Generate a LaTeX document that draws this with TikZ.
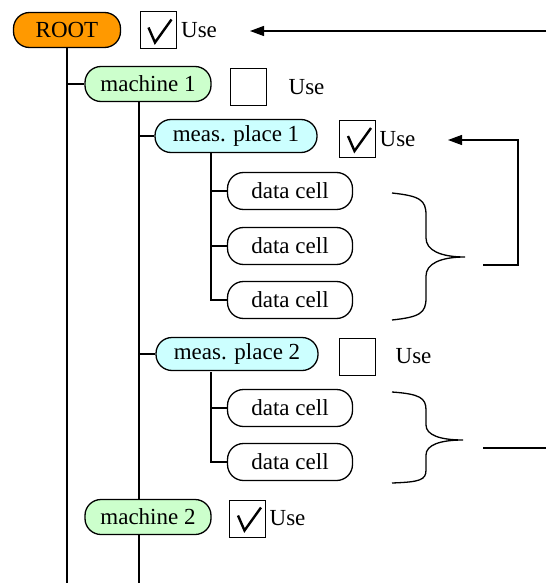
\documentclass[tikz,border=0pt]{standalone}
\usepackage{fontspec}
\setmainfont{LiberationSerif}[Extension=.ttf,UprightFont=*-Regular]
\newfontfamily\diagfont{LiberationSerif}[Extension=.ttf,UprightFont=*-Regular]
\usetikzlibrary{arrows.meta}
\definecolor{rootfill}{HTML}{FF9900}
\definecolor{machfill}{HTML}{CCFFCC}
\definecolor{measfill}{HTML}{CCFFFF}
\newcommand\tickmark[1]{\draw[line width=2.4pt, line join=miter, line cap=butt] ([shift={(9,16)}]#1.north west) -- ([shift={(15.5,31)}]#1.north west) -- ([shift={(32,8)}]#1.north west);}
\begin{document}
\begin{tikzpicture}[x=1pt,y=-1pt,line width=1.3pt,
  every node/.style={font=\diagfont\fontsize{23}{26}\selectfont},
  item/.style={draw, rectangle, rounded corners=16pt, inner sep=0pt, minimum height=35pt},
  rootbox/.style={item, fill=rootfill, minimum width=107pt},
  machbox/.style={item, fill=machfill, minimum width=126pt},
  measbox/.style={item, fill=measfill, minimum width=162pt, minimum height=33pt},
  cellbox/.style={item, fill=white, minimum width=125pt, minimum height=37pt},
  usebox/.style={draw, line width=1pt, inner sep=0pt, minimum width=36pt, minimum height=37pt},
  uselabel/.style={inner sep=0pt, anchor=west},
  conn/.style={line width=1.3pt},
  tip/.style={-{Triangle[length=14pt,width=10pt]}},
  brace/.style={line width=1.3pt}
]
\useasboundingbox (0,0) rectangle (546,583);

% coordinates for tree trunks
\coordinate (bot0) at (67,583);
\coordinate (bot1) at (139,583);

% nodes
\node[rootbox] (root) at (67,30) {ROOT};
\node[machbox] (m1) at (148,84) {machine 1};
\node[measbox] (p1) at (236,136) {meas. place 1};
\node[cellbox] (c11) at (290,191) {data cell};
\node[cellbox] (c12) at (290,246) {data cell};
\node[cellbox] (c13) at (290,300) {data cell};
\node[measbox] (p2) at (237,354) {meas. place 2};
\node[cellbox] (c21) at (290,408) {data cell};
\node[cellbox] (c22) at (290,462) {data cell};

% tree lines
\draw[conn] (root.south) -- (bot0);
\draw[conn] (m1.south -| bot1) -- (bot1);
\draw[conn] (bot0 |- m1) -- (m1.west);
\draw[conn] (bot1 |- p1) -- (p1.west);
\draw[conn] (bot1 |- p2) -- (p2.west);
\coordinate (t1) at (211,152);
\coordinate (t2) at (211,372);
\draw[conn] (t1) -- (t1 |- c13) -- (c13.west);
\draw[conn] (t1 |- c11) -- (c11.west);
\draw[conn] (t1 |- c12) -- (c12.west);
\draw[conn] (t2) -- (t2 |- c22) -- (c22.west);
\draw[conn] (t2 |- c21) -- (c21.west);

\node[machbox] (m2) at (148,517) {machine 2};

% checkboxes
\node[usebox] (u0) at (158,30.5) {};
\node[uselabel] (l0) at ([xshift=4pt]u0.east) {Use};
\tickmark{u0}
\node[usebox] (u1) at (248.5,87) {};
\node[uselabel] (l1) at ([xshift=21pt]u1.east) {Use};
\node[usebox] (u2) at (357.5,139) {};
\node[uselabel] (l2) at ([xshift=3pt]u2.east) {Use};
\tickmark{u2}
\node[usebox] (u3) at (357.5,356.5) {};
\node[uselabel] (l3) at ([xshift=19pt]u3.east) {Use};
\node[usebox] (u4) at (247.5,518.5) {};
\node[uselabel] (l4) at ([xshift=3pt]u4.east) {Use};
\tickmark{u4}

% arrow into ROOT's Use
\coordinate (a0s) at (546,31);
\coordinate (a0e) at (250,31);
\draw[conn,tip] (a0s) -- (a0e);

% braces
\draw[brace] (392,193) .. controls (420,196) and (426,200) .. (426,215)
  -- (426,238) .. controls (426,250) and (440,257) .. (465,257)
  .. controls (440,257) and (426,264) .. (426,276)
  -- (426,298) .. controls (426,313) and (420,317) .. (392,320);
\draw[brace] (392,392) .. controls (420,394) and (426,398) .. (426,410)
  -- (426,425) .. controls (426,435) and (440,440) .. (463,440)
  .. controls (440,440) and (426,445) .. (426,455)
  -- (426,470) .. controls (426,480) and (420,482) .. (392,483);

% feedback arrow from brace 1
\coordinate (f0) at (483,265);
\coordinate (f1) at (518,265);
\coordinate (f2) at (518,140);
\coordinate (f3) at (448,140);
\draw[conn,tip] (f0) -- (f1) -- (f2) -- (f3);

% line from brace 2
\coordinate (g0) at (483,448);
\coordinate (g1) at (546,448);
\draw[conn] (g0) -- (g1);
\end{tikzpicture}
\end{document}
